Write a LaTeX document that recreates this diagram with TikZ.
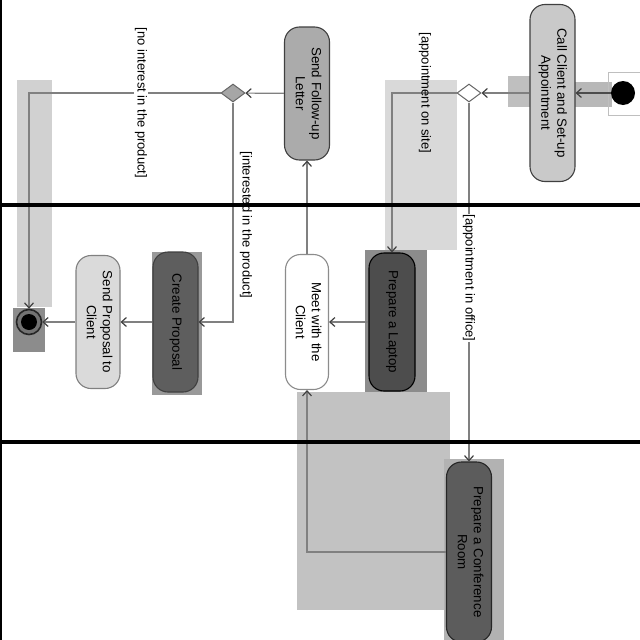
\documentclass[tikz,border=0pt]{standalone}
\usepackage{fontspec}
\setmainfont{Liberation Sans}
\usepackage{graphicx}
\usetikzlibrary{arrows.meta,shapes.geometric}
\newcommand{\vtext}[1]{\rotatebox{-90}{\begin{tabular}{@{}c@{}}#1\end{tabular}}}
\definecolor{cCall}{HTML}{C9C9C9}
\definecolor{cLetter}{HTML}{ABABAB}
\definecolor{cDark}{HTML}{4D4D4D}
\definecolor{cCreate}{HTML}{5E5E5E}
\definecolor{cSend}{HTML}{DADADA}
\definecolor{cConf}{HTML}{5C5C5C}
\begin{document}
\begin{tikzpicture}[x=1pt,y=-1pt,
  act/.style={draw=black!75, line width=1.1pt, rounded corners=15pt, inner sep=0pt,
    minimum width=45pt, font=\fontsize{13.3}{16}\selectfont},
  conn/.style={draw=black!50, line width=1.2pt,
    -{Straight Barb[length=5pt,width=9pt,line width=1.2pt,color=black!75]}},
  guard/.style={font=\fontsize{13}{16}\selectfont, inner sep=1pt, rotate=-90},
  dec/.style={shape=diamond, draw=black!60, line width=1pt, minimum width=24pt,
    minimum height=18pt, inner sep=0pt},
  lane/.style={line width=3.5pt, black}]
\useasboundingbox (0,0) rectangle (640,640);
\fill[white] (0,0) rectangle (640,640);
% highlight boxes
\fill[black!15] (385,80) rectangle (457,250);
\fill[black!45] (365,250) rectangle (427,395);
\fill[black!24] (297,392) rectangle (450,610);
\fill[black!30] (444,459) rectangle (504,640);
\fill[black!40] (152,252) rectangle (202,395);
\fill[black!18] (17,80) rectangle (52,307);
\fill[black!45] (13,308) rectangle (45,352);
\fill[black!25] (508,76) rectangle (532,107);
\fill[black!28] (573,82) rectangle (612,107);
\draw[black!25, line width=0.8pt] (608,72) rectangle (642,115);
% nodes
\node[circle, fill=black, minimum size=24pt, inner sep=0pt] (init) at (623,93) {};
\node[act, fill=cCall, minimum height=177pt] (call) at (552.5,93) {\vtext{Call Client and Set-up\\Appointment}};
\node[dec, fill=white] (dec1) at (469,93) {};
\node[act, fill=cLetter, minimum height=133pt] (letter) at (307,93.5) {\vtext{Send Follow-up\\Letter}};
\node[dec, fill=black!35] (dec2) at (233,93) {};
\node[act, fill=cDark, draw=black, minimum width=46pt, minimum height=138pt] (prepL) at (392,322) {\vtext{Prepare a Laptop}};
\node[act, fill=white, draw=black!45, minimum width=43pt, minimum height=135pt] (meet) at (307,322) {\vtext{Meet with the\\Client}};
\node[act, fill=cCreate, minimum height=140pt] (create) at (175.5,322) {\vtext{Create Proposal}};
\node[act, fill=cSend, draw=black!50, minimum width=44pt, minimum height=133pt] (sendp) at (98,322) {\vtext{Send Proposal to\\Client}};
\node[act, fill=cConf, draw=black!85, minimum height=180pt] (conf) at (469,552) {\vtext{Prepare a Conference\\Room}};
\node[circle, draw=black!85, line width=1.6pt, fill=black!55, minimum size=25pt, inner sep=0pt,
  path picture={\fill[black] (path picture bounding box.center) circle (8pt);}] (final) at (29,322) {};
% connectors
\draw[conn, draw=black!70] (init) -- (call);
\draw[conn] (call) -- (dec1);
\draw[conn] (dec1.west) -| (prepL.north);
\draw[conn] (dec1.south) -- (conf.north);
\draw[conn] (prepL) -- (meet);
\draw[conn] (conf.west) -| (meet.south);
\draw[conn] (meet) -- (letter);
\draw[conn] (letter) -- (dec2);
\draw[conn] (dec2.west) -| (final.north);
\draw[conn] (dec2.south) |- (create.east);
\draw[conn] (create) -- (sendp);
\draw[conn] (sendp) -- (final);
% guards
\node[guard, fill=white] (g1) at (141,103) {[no interest in the product]};
\node[guard] (g2) at (246,225) {[interested in the product]};
\node[guard] (g3) at (425,93) {[appointment on site]};
\node[guard, fill=white] (g4) at (469,278) {[appointment in office]};
% swimlane separators
\draw[lane] (0,205) -- (640,205);
\draw[lane] (0,442) -- (640,442);
\draw[black, line width=1.5pt] (0.75,0) -- (0.75,640);
\end{tikzpicture}
\end{document}
